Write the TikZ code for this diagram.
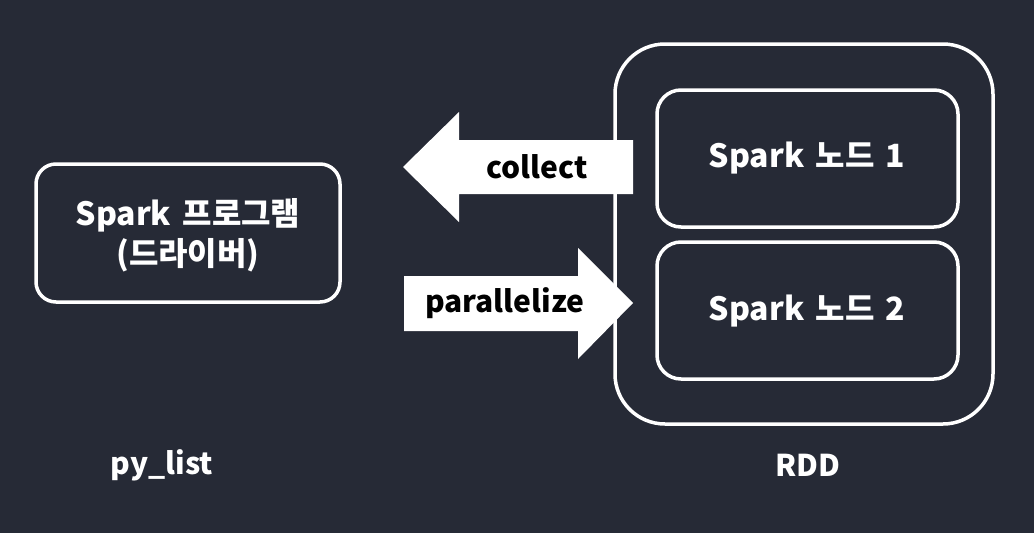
\documentclass[tikz,border=0pt]{standalone}
\usepackage{fontspec}
\setmainfont{Noto Sans CJK KR}
\definecolor{bg}{HTML}{262A36}
\begin{document}
\begin{tikzpicture}[x=1pt,y=-1pt,
  box/.style={draw=white,line width=3.5pt,rounded corners=#1},
  lbl/.style={text=white,font=\fontsize{30}{40}\selectfont\bfseries,align=center,inner sep=0pt},
  krlbl/.style={text=white,font=\fontsize{32}{40}\selectfont\bfseries,align=center,inner sep=0pt},
  arrtxt/.style={text=black,font=\fontsize{30}{36}\selectfont\bfseries,inner sep=0pt}]
\fill[bg] (0,0) rectangle (1034,533);
\useasboundingbox (0,0) rectangle (1034,533);
% boxes
\draw[box=20pt] (36,164) rectangle (340,302);
\node[krlbl] (driver) at (188,235) {Spark\hspace{4pt} 프로그램\\(드라이버)};
\draw[box=50pt] (615,44) rectangle (993,424);
\draw[box=24pt] (657,90) rectangle (958,227);
\node[krlbl] (n1) at (807,158) {Spark\hspace{4pt} 노드\hspace{4pt} 1};
\draw[box=24pt] (657,242) rectangle (958,379);
\node[krlbl] (n2) at (807,311) {Spark\hspace{4pt} 노드\hspace{4pt} 2};
% arrows
\fill[white] (403,167) -- (459,112) -- (459,140) -- (633,140) -- (633,194) -- (459,194) -- (459,222) -- cycle;
\node[arrtxt] (collect) at (537,167) {collect};
\fill[white] (633,303) -- (578,248) -- (578,276) -- (404,276) -- (404,331) -- (578,331) -- (578,359) -- cycle;
\node[arrtxt] (par) at (505,303) {parallelize};
% labels
\node[lbl] (py) at (162,465) {py\_list};
\node[lbl] (rdd) at (808,465) {RDD};
\end{tikzpicture}
\end{document}
